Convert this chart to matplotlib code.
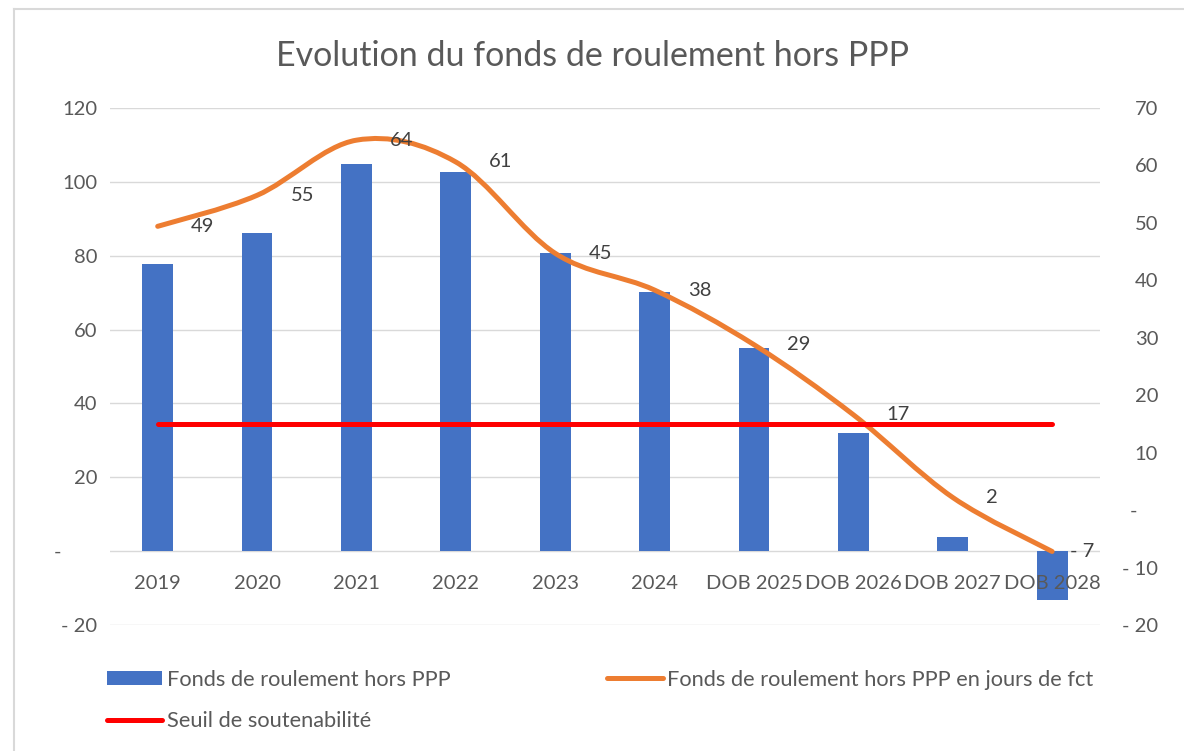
import matplotlib
matplotlib.use("Agg")
import matplotlib.pyplot as plt
from matplotlib.path import Path
from matplotlib.patches import PathPatch, Patch
from matplotlib.lines import Line2D
import numpy as np

plt.rcParams['font.family'] = ['Lato', 'DejaVu Sans']

# data
years = ['2019', '2020', '2021', '2022', '2023', '2024',
         'DOB 2025', 'DOB 2026', 'DOB 2027', 'DOB 2028']
fonds = [77.8, 86.2, 104.8, 102.6, 80.6, 70.1, 55.0, 32.0, 3.8, -13.2]
jours = [49.4, 54.8, 64.4, 60.6, 44.7, 38.3, 28.8, 16.6, 2.2, -7.2]
seuil = [15] * len(years)

BLUE = '#4472C4'
ORANGE = '#ED7D31'
RED = '#FF0000'
GREY = '#595959'
FS = 14.5


def fmt(v):
    v = int(round(v))
    if v == 0:
        return '-'
    if v < 0:
        return '- ' + str(abs(v))
    return str(v)


def smooth_path(xs, ys):
    # excel-like smoothed line: bezier segments with tension 1/6
    n = len(xs)
    verts = [(xs[0], ys[0])]
    codes = [Path.MOVETO]
    for i in range(n - 1):
        x0, y0 = (xs[i - 1], ys[i - 1]) if i > 0 else (xs[i], ys[i])
        x1, y1 = xs[i], ys[i]
        x2, y2 = xs[i + 1], ys[i + 1]
        x3, y3 = (xs[i + 2], ys[i + 2]) if i + 2 < n else (x2, y2)
        c1 = (x1 + (x2 - x0) / 6, y1 + (y2 - y0) / 6)
        c2 = (x2 - (x3 - x1) / 6, y2 - (y3 - y1) / 6)
        verts += [c1, c2, (x2, y2)]
        codes += [Path.CURVE4] * 3
    return Path(verts, codes)


fig = plt.figure(figsize=(11.84, 7.51), dpi=100)
ax = fig.add_axes([0.0929, 0.1678, 0.836, 0.6884])
ax2 = ax.twinx()

x = np.arange(len(years))
left_ticks = list(range(-20, 121, 20))

# gridlines behind bars, tick labels in front of them
for t in left_ticks:
    ax.axhline(t, color='#d9d9d9', lw=1, zorder=0)
ax.set_axisbelow(False)

# bars on left axis
ax.bar(x, fonds, width=0.31, color=BLUE, zorder=2)
ax.set_ylim(-20, 120)
ax.set_yticks(left_ticks)
ax.set_yticklabels([fmt(v) if v != 0 else '-' + ' ' * 7 for v in left_ticks])
ax.set_xlim(-0.48, len(years) - 0.52)

ax.set_xticks(x)
ax.set_xticklabels(years)
ax.spines['bottom'].set_position(('data', 0))
for s in ax.spines.values():
    s.set_visible(False)
for s in ax2.spines.values():
    s.set_visible(False)
ax.tick_params(axis='x', length=0, pad=17, labelsize=FS, labelcolor=GREY)
ax.tick_params(axis='y', length=0, pad=9, labelsize=FS, labelcolor=GREY)

# right axis: days
ax2.set_ylim(-20, 70)
ax2.set_yticks(range(-20, 71, 10))
ax2.set_yticklabels([fmt(v) if v != 0 else '-' + ' ' * 4 for v in range(-20, 71, 10)])
ax2.tick_params(axis='y', length=0, pad=42, labelsize=FS, labelcolor=GREY)
for t in ax2.get_yticklabels():
    t.set_ha('right')

path = smooth_path(x, jours)
ax2.add_patch(PathPatch(path, facecolor='none', edgecolor=ORANGE, lw=3.6,
                        capstyle='round', joinstyle='round', zorder=3))
ax2.plot(x, seuil, color=RED, lw=3.6, solid_capstyle='round', zorder=4)

for xi, v in zip(x, jours):
    off = 13 if v < 0 else 24
    ax2.annotate(fmt(v), (xi, v), xytext=(off, 0), textcoords='offset points',
                 ha='left', va='center', fontsize=FS, color='#404040', zorder=5)

fig.suptitle('Evolution du fonds de roulement hors PPP', x=0.5, y=0.947,
             fontsize=24.5, color=GREY)

handles = [Patch(facecolor=BLUE),
           Line2D([], [], color=RED, lw=3.6, solid_capstyle='round'),
           Line2D([], [], color=ORANGE, lw=3.6, solid_capstyle='round')]
labels = ['Fonds de roulement hors PPP', 'Seuil de soutenabilité',
          'Fonds de roulement hors PPP en jours de fct']
fig.legend(handles, labels, ncol=2, loc='upper left', bbox_to_anchor=(0.0735, 0.1345),
           frameon=False, fontsize=15.7, labelcolor=GREY, handlelength=2.55,
           handletextpad=0.2, columnspacing=7.2, labelspacing=1.0,
           handleheight=0.6)

# chart border
fig.add_artist(Line2D([14 / 1184, 14 / 1184], [0, 1 - 9 / 751],
                      transform=fig.transFigure, color='#d9d9d9', lw=1.5))
fig.add_artist(Line2D([14 / 1184, 1], [1 - 9 / 751, 1 - 9 / 751],
                      transform=fig.transFigure, color='#d9d9d9', lw=1.5))

fig.savefig('out.png', dpi=100, facecolor='white')
